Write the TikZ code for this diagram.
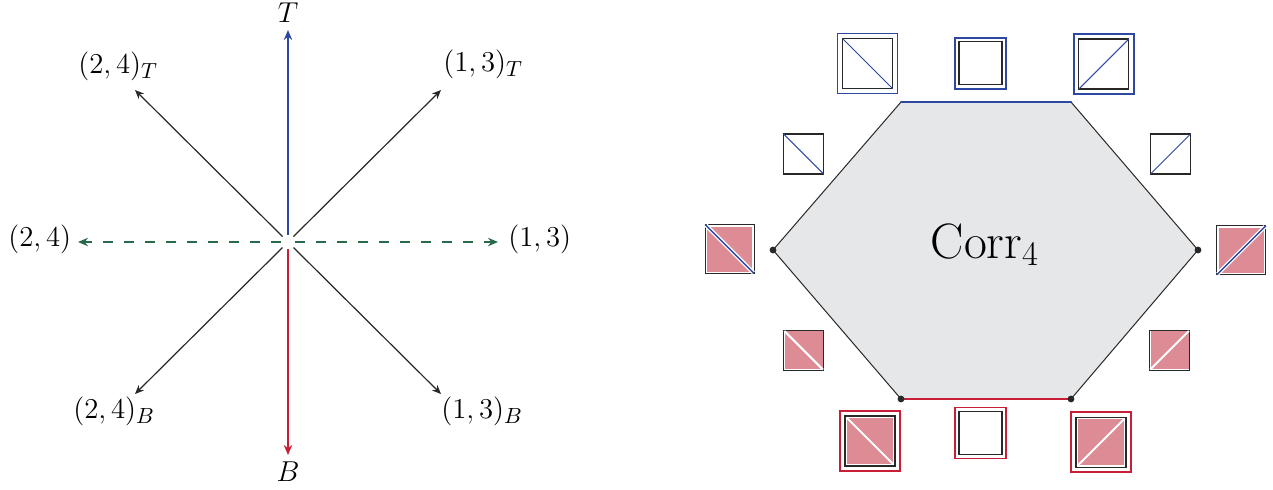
\documentclass[tikz,border=0pt]{standalone}
\usetikzlibrary{arrows.meta}
\definecolor{tblue}{RGB}{45,72,160}
\definecolor{bred}{RGB}{200,30,55}
\definecolor{dgreen}{RGB}{40,105,75}
\definecolor{pinkfill}{RGB}{221,140,150}
\definecolor{hexgray}{RGB}{230,231,232}
\definecolor{edge}{RGB}{40,40,40}
\tikzset{
  ray/.style={line width=0.6pt, draw=edge, -{Stealth[length=4.5pt,width=3.8pt]}},
  cray/.style={line width=0.9pt, -{Stealth[length=5pt,width=4.2pt]}},
  lab/.style={inner sep=0pt, font=\fontsize{15}{18}\selectfont},
  sqbox/.style={draw=edge, line width=0.6pt, minimum size=#1, inner sep=0pt, outer sep=0pt},
  frame/.style={line width=0.75pt, minimum size=#1, inner sep=0pt, outer sep=0pt},
  pinkbox/.style={fill=pinkfill, minimum size=#1, inner sep=0pt, outer sep=0pt},
  bluediag/.style={draw=tblue, line width=0.5pt},
  whitediag/.style={draw=white, line width=#1},
  vdot/.style={circle, fill=edge, inner sep=0pt, minimum size=3.4pt}
}
\begin{document}
\begin{tikzpicture}[x=0.5pt,y=-0.5pt]
\useasboundingbox (0,0) rectangle (1273,489);

% ---------- directions around the origin ----------
\coordinate (O) at (288,242);
\coordinate (sT) at (288,235);   \coordinate (eT) at (288,30);
\coordinate (sB) at (288,249);   \coordinate (eB) at (288,455);
\coordinate (sL) at (281,242);   \coordinate (eL) at (78,242);
\coordinate (sR) at (295,242);   \coordinate (eR) at (498,242);
\coordinate (sTL) at (282.5,236.5); \coordinate (eTL) at (135,90);
\coordinate (sTR) at (293.5,236.5); \coordinate (eTR) at (441,90);
\coordinate (sBL) at (282.5,247.5); \coordinate (eBL) at (135,394);
\coordinate (sBR) at (293.5,247.5); \coordinate (eBR) at (441,394);

\draw[ray] (sTL) -- (eTL);
\draw[ray] (sTR) -- (eTR);
\draw[ray] (sBL) -- (eBL);
\draw[ray] (sBR) -- (eBR);
\draw[cray, tblue] (sT) -- (eT);
\draw[cray, bred] (sB) -- (eB);
\draw[cray, dgreen, dash pattern=on 5pt off 5.5pt] (sL) -- (eL);
\draw[cray, dgreen, dash pattern=on 5pt off 5.5pt] (sR) -- (eR);

\node[lab] (lT) at (288,13) {$T$};
\node[lab] (lB) at (288,472) {$B$};
\node[lab, anchor=mid west] (l24T) at (78,69) {$(2,4)_T$};
\node[lab, anchor=mid west] (l13T) at (443,67) {$(1,3)_T$};
\node[lab, anchor=mid west] (l24) at (8,242) {$(2,4)$};
\node[lab, anchor=mid west] (l13) at (508,242) {$(1,3)$};
\node[lab, anchor=mid west] (l24B) at (73,414) {$(2,4)_B$};
\node[lab, anchor=mid west] (l13B) at (441,414) {$(1,3)_B$};

% ---------- the hexagon ----------
\coordinate (hTL) at (901,102);
\coordinate (hTR) at (1071,102);
\coordinate (hR) at (1198,250);
\coordinate (hBR) at (1071,399);
\coordinate (hBL) at (901,399);
\coordinate (hL) at (773,250);
\fill[hexgray] (hTL) -- (hTR) -- (hR) -- (hBR) -- (hBL) -- (hL) -- cycle;
\draw[edge, line width=0.5pt] (hTR) -- (hR) -- (hBR);
\draw[edge, line width=0.5pt] (hBL) -- (hL) -- (hTL);
\draw[tblue, line width=1pt, line cap=round] (hTL) -- (hTR);
\draw[bred, line width=1pt, line cap=round] (hBL) -- (hBR);
\node[vdot] (dL) at (hL) {};
\node[vdot] (dR) at (hR) {};
\node[vdot] (dBL) at (hBL) {};
\node[vdot] (dBR) at (hBR) {};
\node[font=\fontsize{25.5}{30}\selectfont, inner sep=0pt] (corr) at (985,245) {$\mathrm{Corr}_4$};

% ---------- top row ----------
\node[frame=30pt, draw=tblue] (fTL) at (867.5,63.5) {};
\node[sqbox=25pt] (qTL) at (867.5,63.5) {};
\draw[bluediag] (qTL.north west) -- (qTL.south east);

\node[frame=25.5pt, draw=tblue] (fTM) at (980.5,63.3) {};
\node[sqbox=21.5pt] (qTM) at (980.5,63.3) {};

\node[frame=30pt, draw=tblue] (fTR) at (1103.8,64) {};
\node[sqbox=25pt] (qTR) at (1103.8,64) {};
\draw[bluediag] (qTR.south west) -- (qTR.north east);

% ---------- second row ----------
\node[sqbox=20pt] (qUL) at (803.7,154) {};
\draw[bluediag] (qUL.north west) -- (qUL.south east);
\node[sqbox=20pt] (qUR) at (1170.5,154) {};
\draw[bluediag] (qUR.south west) -- (qUR.north east);

% ---------- middle row ----------
\node[sqbox=24.5pt] (qML) at (729.7,249) {};
\node[pinkbox=22.5pt] at (qML) {};
\draw[whitediag=2pt, shorten <=0.6pt, shorten >=0.6pt] (qML.north west) -- (qML.south east);
\draw[bluediag, line width=0.7pt] (qML.north west) -- (qML.south east);

\node[sqbox=24.5pt] (qMR) at (1241.3,250.3) {};
\node[pinkbox=22.5pt] at (qMR) {};
\draw[whitediag=2pt, shorten <=0.6pt, shorten >=0.6pt] (qMR.south west) -- (qMR.north east);
\draw[bluediag, line width=0.7pt] (qMR.south west) -- (qMR.north east);

% ---------- fourth row ----------
\node[sqbox=20pt] (qLL) at (803.7,350.3) {};
\node[pinkbox=19pt] at (qLL) {};
\draw[whitediag=1pt, shorten <=0.5pt, shorten >=0.5pt] (qLL.north west) -- (qLL.south east);

\node[sqbox=20pt] (qLR) at (1169.5,350.3) {};
\node[pinkbox=19pt] at (qLR) {};
\draw[whitediag=1pt, shorten <=0.5pt, shorten >=0.5pt] (qLR.south west) -- (qLR.north east);

% ---------- bottom row ----------
\node[frame=30pt, draw=bred] (fBL) at (870,441) {};
\node[sqbox=25pt] (qBL) at (870,441) {};
\node[pinkbox=23pt] at (qBL) {};
\draw[whitediag=1pt, shorten <=1pt, shorten >=1pt] (qBL.north west) -- (qBL.south east);

\node[frame=25.5pt, draw=bred] (fBM) at (980.5,432.8) {};
\node[sqbox=21.5pt] (qBM) at (980.5,432.8) {};

\node[frame=30pt, draw=bred] (fBR) at (1101,442.2) {};
\node[sqbox=25pt] (qBR) at (1101,442.2) {};
\node[pinkbox=23pt] at (qBR) {};
\draw[whitediag=1pt, shorten <=1pt, shorten >=1pt] (qBR.south west) -- (qBR.north east);
\end{tikzpicture}
\end{document}
